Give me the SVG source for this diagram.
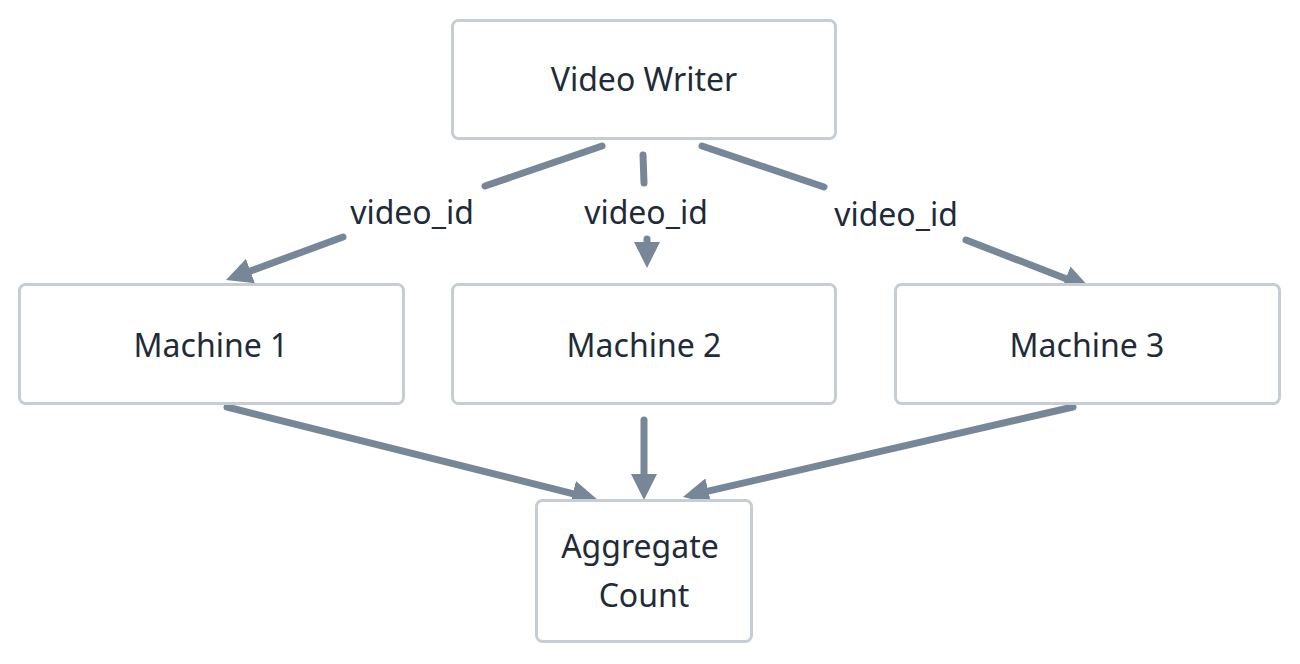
<svg xmlns="http://www.w3.org/2000/svg" width="1300" height="664" viewBox="0 0 1300 664">
<style>
.box{fill:#ffffff;stroke:#c6cdd4;stroke-width:3}
.lbl{font-family:"Noto Sans","DejaVu Sans",sans-serif;font-size:32px;fill:#1f2b38;text-anchor:middle}
.edge{stroke:#778797;stroke-width:7;stroke-linecap:round;fill:none}
</style>
<defs>
<marker id="ah" viewBox="0 0 26 26" markerWidth="26" markerHeight="26" markerUnits="userSpaceOnUse" refX="8" refY="13" orient="auto">
<path d="M0,0 L26,13 L0,26 Z" fill="#778797"/>
</marker>
</defs>
<rect width="1300" height="664" fill="#ffffff"/>
<g id="connectors">
<line class="edge" x1="602" y1="146" x2="485" y2="186"/>
<line class="edge" x1="343" y1="237" x2="242.9" y2="273.8" marker-end="url(#ah)"/>
<line class="edge" x1="643" y1="155" x2="644" y2="183"/>
<line class="edge" x1="647" y1="239" x2="647" y2="250" marker-end="url(#ah)"/>
<line class="edge" x1="702" y1="146" x2="824" y2="187"/>
<line class="edge" x1="966" y1="240" x2="1073.2" y2="281.5" marker-end="url(#ah)"/>
<line class="edge" x1="227" y1="407" x2="580.5" y2="495.6" marker-end="url(#ah)"/>
<line class="edge" x1="644" y1="420" x2="644" y2="482" marker-end="url(#ah)"/>
<line class="edge" x1="1073" y1="407" x2="700.5" y2="492.9" marker-end="url(#ah)"/>
<text class="lbl" x="412" y="224">video_id</text>
<text class="lbl" x="646" y="224">video_id</text>
<text class="lbl" x="896" y="226">video_id</text>
</g>
<g id="video-writer">
<rect class="box" x="452.5" y="20.5" width="383" height="118" rx="6"/>
<text class="lbl" x="644" y="91">Video Writer</text>
</g>
<g id="machine-1">
<rect class="box" x="19.5" y="284.5" width="384" height="119" rx="6"/>
<text class="lbl" x="211" y="357">Machine 1</text>
</g>
<g id="machine-2">
<rect class="box" x="452.5" y="284.5" width="383" height="119" rx="6"/>
<text class="lbl" x="644" y="357">Machine 2</text>
</g>
<g id="machine-3">
<rect class="box" x="895.5" y="284.5" width="384" height="119" rx="6"/>
<text class="lbl" x="1087" y="357">Machine 3</text>
</g>
<g id="aggregate-count">
<rect class="box" x="536.5" y="500.5" width="215" height="141" rx="6"/>
<text class="lbl" x="640" y="558">Aggregate</text>
<text class="lbl" x="644" y="607">Count</text>
</g>
</svg>
